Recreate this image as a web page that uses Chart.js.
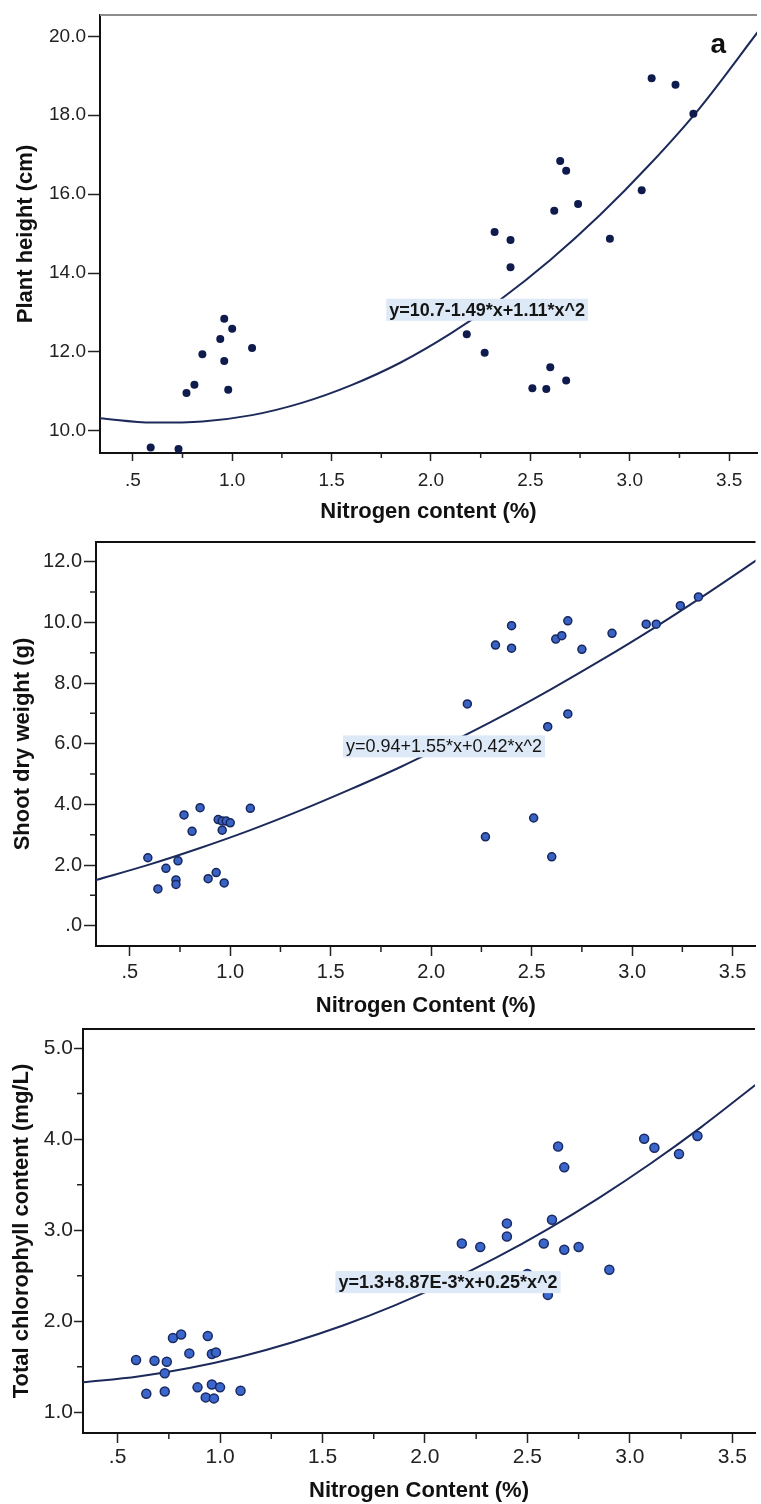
<!DOCTYPE html>
<html>
<head>
<meta charset="utf-8">
<script src="https://cdn.jsdelivr.net/npm/chart.js@4.4.0/dist/chart.umd.min.js"></script>
<style>
  body { margin: 0; background: #fff; width: 761px; height: 1504px; overflow: hidden; position: relative; }
  canvas { position: absolute; left: 0; }
</style>
</head>
<body>
<canvas id="heightChart" width="761" height="525" style="top:0"></canvas>
<canvas id="shootChart" width="761" height="495" style="top:525px"></canvas>
<canvas id="chloroChart" width="761" height="484" style="top:1020px"></canvas>
<script>
// panel a - plant height vs nitrogen content
const heightN = [0.59, 0.73, 0.77, 0.81, 0.85, 0.94, 0.96, 1.00, 0.96, 0.98, 1.10, 2.18, 2.27, 2.32, 2.40, 2.40, 2.51, 2.58, 2.60, 2.68, 2.62, 2.65, 2.68, 2.74, 2.90, 3.06, 3.11, 3.23, 3.32];
const heightCm = [9.58, 9.54, 10.96, 11.17, 11.94, 12.33, 12.84, 12.59, 11.77, 11.04, 12.10, 12.45, 11.98, 15.04, 14.84, 14.15, 11.08, 11.06, 11.61, 11.28, 15.58, 16.84, 16.59, 15.75, 14.87, 16.10, 18.94, 18.77, 18.04];

// panel b - shoot dry weight
const shootN = [0.59, 0.64, 0.68, 0.73, 0.73, 0.74, 0.77, 0.81, 0.85, 0.89, 0.93, 0.94, 0.96, 0.96, 0.97, 0.98, 1.00, 1.10, 2.18, 2.27, 2.32, 2.40, 2.40, 2.51, 2.58, 2.60, 2.62, 2.65, 2.68, 2.68, 2.75, 2.90, 3.07, 3.12, 3.24, 3.33];
const shootG = [2.24, 1.21, 1.89, 1.51, 1.36, 2.14, 3.65, 3.11, 3.89, 1.55, 1.75, 3.50, 3.45, 3.15, 1.41, 3.45, 3.39, 3.87, 7.31, 2.93, 9.25, 9.89, 9.15, 3.55, 6.56, 2.27, 9.45, 9.56, 10.05, 6.98, 9.11, 9.64, 9.94, 9.94, 10.55, 10.84];

// panel c - total chlorophyll
const chloroN = [0.59, 0.64, 0.68, 0.73, 0.73, 0.74, 0.77, 0.81, 0.85, 0.89, 0.93, 0.94, 0.96, 0.96, 0.97, 0.98, 1.00, 1.10, 2.18, 2.27, 2.40, 2.40, 2.50, 2.58, 2.60, 2.62, 2.65, 2.68, 2.68, 2.75, 2.90, 3.07, 3.12, 3.24, 3.33];
const chloroMg = [1.575, 1.205, 1.567, 1.43, 1.23, 1.557, 1.817, 1.856, 1.648, 1.275, 1.165, 1.838, 1.641, 1.307, 1.154, 1.659, 1.275, 1.238, 2.855, 2.815, 3.075, 2.932, 2.52, 2.855, 2.29, 3.115, 3.92, 3.69, 2.786, 2.815, 2.566, 4.005, 3.906, 3.836, 4.034];

// fitted quadratic curves
const fitN = [0.33, 0.6, 0.85, 1.1, 1.35, 1.6, 1.85, 2.1, 2.35, 2.6, 2.85, 3.1, 3.35, 3.65];
const heightFit = [10.32, 10.21, 10.24, 10.40, 10.71, 11.16, 11.74, 12.47, 13.33, 14.33, 15.47, 16.75, 18.17, 20.15];
const shootFit = [1.50, 2.02, 2.56, 3.15, 3.80, 4.50, 5.24, 6.05, 6.90, 7.81, 8.77, 9.78, 10.85, 12.19];
const chloroFit = [1.33, 1.395, 1.488, 1.612, 1.768, 1.954, 2.172, 2.421, 2.701, 3.013, 3.356, 3.730, 4.135, 4.66];

// ticks
const xTicks = [0.5, 1.0, 1.5, 2.0, 2.5, 3.0, 3.5];
const xMinor = [0.75, 1.25, 1.75, 2.25, 2.75, 3.25];
const heightTicks = [10, 12, 14, 16, 18, 20];
const shootTicks = [0, 2, 4, 6, 8, 10, 12];
const shootMinor = [1, 3, 5, 7, 9, 11];
const chloroTicks = [1, 2, 3, 4, 5];
const chloroMinor = [1.5, 2.5, 3.5, 4.5];

const FONT = "'Liberation Sans', Arial, sans-serif";

// SPSS style: ".5", ".0"
const fmt = v => {
    let s = Number(v).toFixed(1);
    if (s.startsWith('0.')) s = s.slice(1);
    return s;
};

const toXY = (xs, ys) => xs.map((x, i) => ({ x: x, y: ys[i] }));

// top border, minor ticks, equation box, panel letter
const extras = {
    id: 'extras',
    afterDatasetsDraw(chart, args, o) {
        const { ctx, chartArea: a } = chart;
        const x = chart.scales.x, y = chart.scales.y;
        ctx.save();
        ctx.strokeStyle = o.topColor;
        ctx.lineWidth = 2;
        ctx.beginPath();
        ctx.moveTo(a.left, a.top);
        ctx.lineTo(a.right, a.top);
        ctx.stroke();

        ctx.strokeStyle = '#222';
        ctx.lineWidth = 1.5;
        ctx.beginPath();
        o.minorX.forEach(v => {
            const px = x.getPixelForValue(v);
            ctx.moveTo(px, a.bottom);
            ctx.lineTo(px, a.bottom + o.minorLen);
        });
        o.minorY.forEach(v => {
            const py = y.getPixelForValue(v);
            ctx.moveTo(a.left, py);
            ctx.lineTo(a.left - o.minorLen, py);
        });
        ctx.stroke();

        ctx.font = o.eqFont;
        const w = ctx.measureText(o.eq).width;
        const lx = x.getPixelForValue(o.eqAt[0]);
        const ly = y.getPixelForValue(o.eqAt[1]);
        ctx.fillStyle = '#dde9f6';
        ctx.fillRect(lx, ly - 11, w + 6, 22);
        ctx.fillStyle = '#151515';
        ctx.textBaseline = 'middle';
        ctx.fillText(o.eq, lx + 3, ly + 1);

        if (o.tag) {
            ctx.font = 'bold 28px ' + FONT;
            ctx.textAlign = 'center';
            ctx.fillStyle = '#111';
            ctx.fillText(o.tag, x.getPixelForValue(o.tagAt[0]), y.getPixelForValue(o.tagAt[1]));
        }
        ctx.restore();
    }
};

function drawPanel(id, p) {
    new Chart(document.getElementById(id), {
        type: 'scatter',
        data: {
            datasets: [{
                data: toXY(p.n, p.v),
                backgroundColor: p.fill,
                borderColor: p.edge,
                borderWidth: p.edgeW,
                pointRadius: p.r,
                pointHoverRadius: p.r,
                clip: false
            }, {
                type: 'line',
                data: toXY(fitN, p.fit),
                borderColor: '#1c2a5a',
                borderWidth: 2,
                pointRadius: 0,
                cubicInterpolationMode: 'monotone',
                fill: false
            }]
        },
        options: {
            responsive: false,
            animation: false,
            devicePixelRatio: 1,
            layout: { padding: { top: p.top, left: 0, right: 0, bottom: 0 } },
            plugins: {
                legend: { display: false },
                tooltip: { enabled: false },
                extras: {
                    topColor: p.topColor, minorX: xMinor, minorY: p.minorY, minorLen: p.minorLen,
                    eq: p.eq, eqFont: p.eqFont, eqAt: p.eqAt, tag: p.tag, tagAt: p.tagAt
                }
            },
            scales: {
                x: {
                    type: 'linear',
                    min: p.xMin,
                    max: p.xMax,
                    afterBuildTicks: s => { s.ticks = xTicks.map(v => ({ value: v })); },
                    afterFit: s => { s.height = p.xAxisH; s.paddingLeft = 0; s.paddingRight = 0; },
                    grid: { drawOnChartArea: false, tickLength: p.xTickLen, tickWidth: 1.5, tickColor: '#222' },
                    border: { display: true, color: '#111', width: 2 },
                    ticks: { callback: fmt, padding: p.xPad, color: '#222', maxRotation: 0, autoSkip: false, font: { size: p.tickSize, family: FONT } },
                    title: { display: true, text: p.xTitle, color: '#111', padding: { top: 0, bottom: p.xTitlePad }, font: { size: 22, weight: 'bold', family: FONT } }
                },
                y: {
                    type: 'linear',
                    min: p.yMin,
                    max: p.yMax,
                    afterBuildTicks: s => { s.ticks = p.yTicks.map(v => ({ value: v })); },
                    afterFit: s => { s.width = p.yAxisW; s.paddingTop = 0; s.paddingBottom = 0; },
                    grid: { drawOnChartArea: false, tickLength: p.yTickLen, tickWidth: 1.5, tickColor: '#222' },
                    border: { display: true, color: '#111', width: 2 },
                    ticks: { callback: fmt, padding: p.yPad, color: '#222', autoSkip: false, font: { size: p.tickSize, family: FONT } },
                    title: { display: true, text: p.yTitle, color: '#111', padding: { top: p.yTitlePad, bottom: 0 }, font: { size: 22, weight: 'bold', family: FONT } }
                }
            }
        },
        plugins: [extras]
    });
}

drawPanel('heightChart', {
    n: heightN, v: heightCm, fit: heightFit,
    fill: '#0f1b4c', edge: '#0f1b4c', edgeW: 0, r: 4,
    top: 15, yAxisW: 100, xAxisH: 72,
    xMin: 0.335, xMax: 3.64, yMin: 9.44, yMax: 20.54,
    yTicks: heightTicks, minorY: [], minorLen: 5,
    xTickLen: 8, xPad: 8, yTickLen: 12, yPad: 2, tickSize: 19,
    xTitle: 'Nitrogen content (%)', xTitlePad: 0,
    yTitle: 'Plant height (cm)', yTitlePad: 13,
    topColor: '#8c8c8c',
    eq: 'y=10.7-1.49*x+1.11*x^2', eqFont: 'bold 18px ' + FONT, eqAt: [1.775, 13.07],
    tag: 'a', tagAt: [3.445, 19.78]
});

drawPanel('shootChart', {
    n: shootN, v: shootG, fit: shootFit,
    fill: '#3a62c2', edge: '#17275e', edgeW: 1.5, r: 4,
    top: 17, yAxisW: 96, xAxisH: 74,
    xMin: 0.332, xMax: 3.614, yMin: -0.67, yMax: 12.65,
    yTicks: shootTicks, minorY: shootMinor, minorLen: 6,
    xTickLen: 10, xPad: 4, yTickLen: 12, yPad: 2, tickSize: 20,
    xTitle: 'Nitrogen Content (%)', xTitlePad: 1,
    yTitle: 'Shoot dry weight (g)', yTitlePad: 10,
    topColor: '#111',
    eq: 'y=0.94+1.55*x+0.42*x^2', eqFont: '18px ' + FONT, eqAt: [1.561, 5.91]
});

drawPanel('chloroChart', {
    n: chloroN, v: chloroMg, fit: chloroFit,
    fill: '#3b66cb', edge: '#1a2a62', edgeW: 1.5, r: 4.5,
    top: 9, yAxisW: 83, xAxisH: 71,
    xMin: 0.331, xMax: 3.611, yMin: 0.774, yMax: 5.209,
    yTicks: chloroTicks, minorY: chloroMinor, minorLen: 6,
    xTickLen: 10, xPad: 2, yTickLen: 9, yPad: 1, tickSize: 21,
    xTitle: 'Nitrogen Content (%)', xTitlePad: 0,
    yTitle: 'Total chlorophyll content (mg/L)', yTitlePad: 9,
    topColor: '#111',
    eq: 'y=1.3+8.87E-3*x+0.25*x^2', eqFont: 'bold 18px ' + FONT, eqAt: [1.563, 2.43]
});
</script>
</body>
</html>
